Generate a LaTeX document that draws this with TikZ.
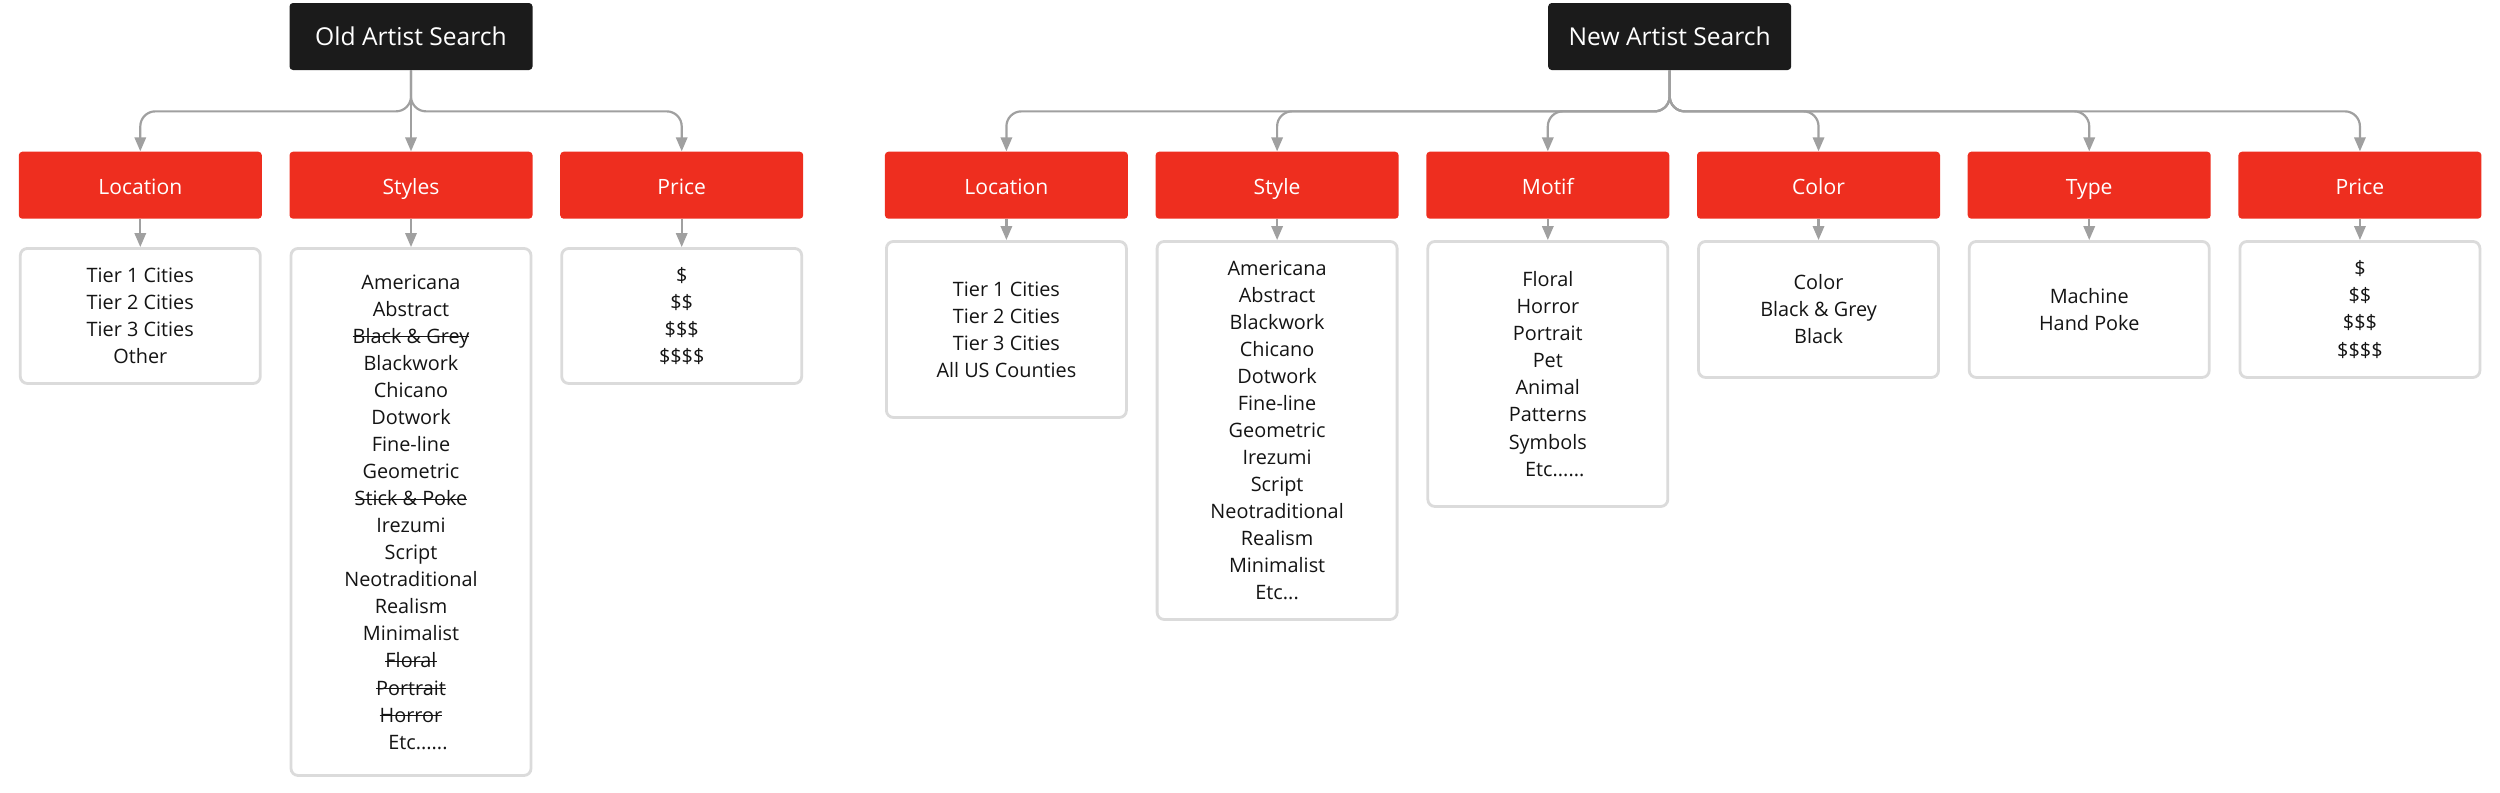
\documentclass[tikz,border=0pt]{standalone}
\usepackage{fontspec}
\setmainfont{Open Sans}
\usepackage{xcolor}
\usetikzlibrary{positioning,arrows.meta}
\definecolor{tagred}{RGB}{238,46,31}
\definecolor{rootblack}{RGB}{27,27,27}
\definecolor{linkgrey}{RGB}{160,160,160}
\definecolor{boxgrey}{RGB}{219,219,219}
\definecolor{inkgrey}{RGB}{20,20,20}
\newsavebox{\strikebox}
\newcommand{\strikeout}[1]{\sbox{\strikebox}{#1}\rlap{\rule[0.55ex]{\wd\strikebox}{0.7pt}}\usebox{\strikebox}}
\tikzset{
  >={Triangle[width=6.5pt,length=8pt]},
  rootbox/.style={fill=rootblack,text=white,rounded corners=2pt,minimum width=4.86cm,minimum height=1.34cm,text height=2.2ex,text depth=0.3ex,font=\fontsize{14}{16}\selectfont},
  catbox/.style={fill=tagred,text=white,rounded corners=2pt,minimum width=4.86cm,minimum height=1.34cm,text height=2.2ex,text depth=0.3ex,font=\fontsize{12}{14}\selectfont},
  listbox/.style={draw=boxgrey,line width=1.6pt,fill=white,rounded corners=4pt,minimum width=4.8cm,text=inkgrey,align=center,font=\fontsize{11.3}{15.4}\selectfont},
  link/.style={draw=linkgrey,line width=1.25pt,rounded corners=0.3cm,->},
}
\begin{document}
\begin{tikzpicture}
    \useasboundingbox (0,0) rectangle (50,-15.84);
    \node[rootbox] (old) at (8.22,-0.73) {Old Artist Search};
    \node[catbox,below=1.62cm of old] (ostyles) {Styles};
    \node[catbox,left=0.54cm of ostyles] (oloc) {Location};
    \node[catbox,right=0.54cm of ostyles] (oprice) {Price};
    \node[listbox,below=0.56cm of oloc,minimum height=2.7cm] (oloclist) {Tier 1 Cities\\Tier 2 Cities\\Tier 3 Cities\\Other};
    \node[listbox,below=0.56cm of ostyles,minimum height=10.54cm] (ostyleslist) {Americana\\Abstract\\\strikeout{Black \& Grey}\\Blackwork\\Chicano\\Dotwork\\Fine-line\\Geometric\\\strikeout{Stick \& Poke}\\Irezumi\\Script\\Neotraditional\\Realism\\Minimalist\\\strikeout{Floral}\\\strikeout{Portrait}\\\strikeout{Horror}\\\hspace*{0.7em}Etc......};
    \node[listbox,below=0.56cm of oprice,minimum height=2.7cm] (opricelist) {\$\\\$\$\\\$\$\$\\\$\$\$\$};
    \node[catbox,right=1.62cm of oprice] (nloc) {Location};
    \node[catbox,right=0.54cm of nloc] (nstyle) {Style};
    \node[catbox,right=0.54cm of nstyle] (nmotif) {Motif};
    \node[catbox,right=0.54cm of nmotif] (ncolor) {Color};
    \node[catbox,right=0.54cm of ncolor] (ntype) {Type};
    \node[catbox,right=0.54cm of ntype] (nprice) {Price};
    \node[rootbox,above=1.62cm of nmotif.north east] (new) {New Artist Search};
    \node[listbox,below=0.42cm of nloc,minimum height=3.52cm] (nloclist) {Tier 1 Cities\\Tier 2 Cities\\Tier 3 Cities\\All US Counties};
    \node[listbox,below=0.42cm of nstyle,minimum height=7.56cm] (nstylelist) {Americana\\Abstract\\Blackwork\\Chicano\\Dotwork\\Fine-line\\Geometric\\Irezumi\\Script\\Neotraditional\\Realism\\Minimalist\\Etc...};
    \node[listbox,below=0.42cm of nmotif,minimum height=5.3cm] (nmotiflist) {Floral\\Horror\\Portrait\\Pet\\Animal\\Patterns\\Symbols\\\hspace*{0.7em}Etc......};
    \node[listbox,below=0.42cm of ncolor,minimum height=2.72cm] (ncolorlist) {Color\\Black \& Grey\\Black};
    \node[listbox,below=0.42cm of ntype,minimum height=2.72cm] (ntypelist) {Machine\\Hand Poke};
    \node[listbox,below=0.42cm of nprice,minimum height=2.72cm] (npricelist) {\$\\\$\$\\\$\$\$\\\$\$\$\$};
    \draw[link] (old) -- (ostyles);
    \foreach \c in {oloc,oprice}
        \draw[link] (old.south) |- ([yshift=0.8cm]\c.north) -- (\c.north);
    \foreach \c in {nloc,nstyle,nmotif,ncolor,ntype,nprice}
        \draw[link] (new.south) |- ([yshift=0.8cm]\c.north) -- (\c.north);
    \foreach \c in {oloc,ostyles,oprice,nloc,nstyle,nmotif,ncolor,ntype,nprice}
        \draw[link] (\c) -- (\c list);
\end{tikzpicture}
\end{document}
